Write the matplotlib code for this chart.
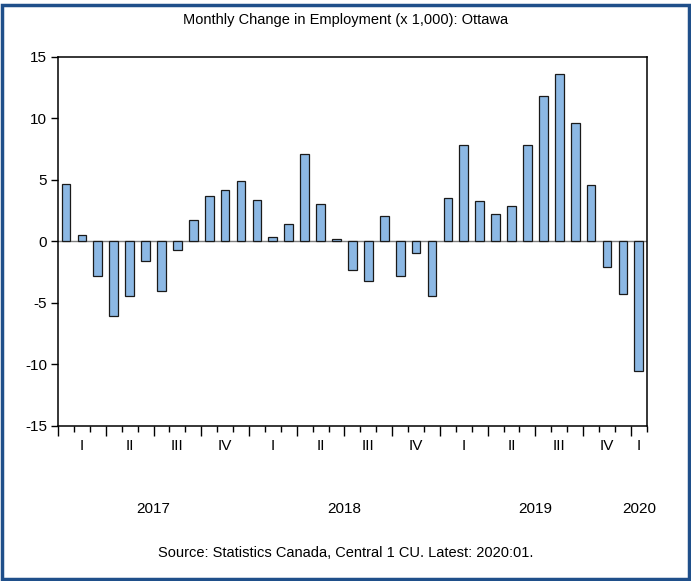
import numpy as np
import matplotlib
matplotlib.use('Agg')
from matplotlib import pyplot as plt
from matplotlib.patches import Rectangle

# monthly change in employment, Jan 2017 .. Jan 2020 (thousands)
values = [4.7, 0.5, -2.8, -6.05, -4.45, -1.6, -4.05, -0.7, 1.75, 3.7, 4.2, 4.9,
          3.35, 0.35, 1.45, 7.1, 3.05, 0.2, -2.35, -3.2, 2.1, -2.8, -0.95, -4.4,
          3.55, 7.8, 3.25, 2.2, 2.85, 7.85, 11.8, 13.6, 9.6, 4.55, -2.1, -4.25,
          -10.5]
quarter_labels = ['I', 'II', 'III', 'IV'] * 3 + ['I']
years = ['2017', '2018', '2019', '2020']
yticks = [-15, -10, -5, 0, 5, 10, 15]

plt.rcParams['font.family'] = ['Liberation Sans', 'DejaVu Sans']

fig = plt.figure(figsize=(6.91, 5.81), dpi=100)
ax = fig.add_axes([0.084, 0.267, 0.852, 0.635])

x = np.arange(len(values))
ax.axhline(0, color='#808080', lw=1.0, zorder=1)
ax.bar(x, values, width=0.55, color='#8cb8e4', edgecolor='#1a1a1a',
       linewidth=0.9, zorder=2)

ax.set_xlim(-0.5, len(values) - 0.5)
ax.set_ylim(-15, 15)
ax.set_yticks(yticks)
ax.set_yticklabels([str(v) for v in yticks], fontsize=11)
ax.tick_params(axis='y', direction='out', length=5, width=1, pad=3)

# month ticks (short) and quarter ticks (long) on x axis
month_edges = np.arange(len(values) + 1) - 0.5
quarter_edges = month_edges[::3]
ax.set_xticks(quarter_edges)
ax.set_xticklabels([])
ax.set_xticks(month_edges, minor=True)
ax.tick_params(axis='x', which='major', direction='out', length=7, width=1)
ax.tick_params(axis='x', which='minor', direction='out', length=4, width=1)

for spine in ax.spines.values():
    spine.set_linewidth(1.1)

# quarter and year labels below the axis
trans = ax.get_xaxis_transform()
for i, lab in enumerate(quarter_labels):
    start = i * 3
    end = min(start + 3, len(values))
    xc = (start + end - 1) / 2.0
    ax.text(xc, -0.055, lab, transform=trans, ha='center', va='center',
            fontsize=11)
for i, yr in enumerate(years):
    start = i * 12
    end = min(start + 12, len(values))
    xc = (start + end - 1) / 2.0
    ax.text(xc, -0.225, yr, transform=trans, ha='center', va='center',
            fontsize=11)

fig.text(0.5, 0.965, 'Monthly Change in Employment (x 1,000): Ottawa',
         ha='center', va='center', fontsize=10.5)
fig.text(0.5, 0.048, 'Source: Statistics Canada, Central 1 CU. Latest: 2020:01.',
         ha='center', va='center', fontsize=10.5)

# blue frame around the whole figure
fig.patches.append(Rectangle((0.003, 0.004), 0.994, 0.988,
                             transform=fig.transFigure, fill=False,
                             edgecolor='#1f4f8a', linewidth=2.5))

fig.savefig('out.png', dpi=100)
